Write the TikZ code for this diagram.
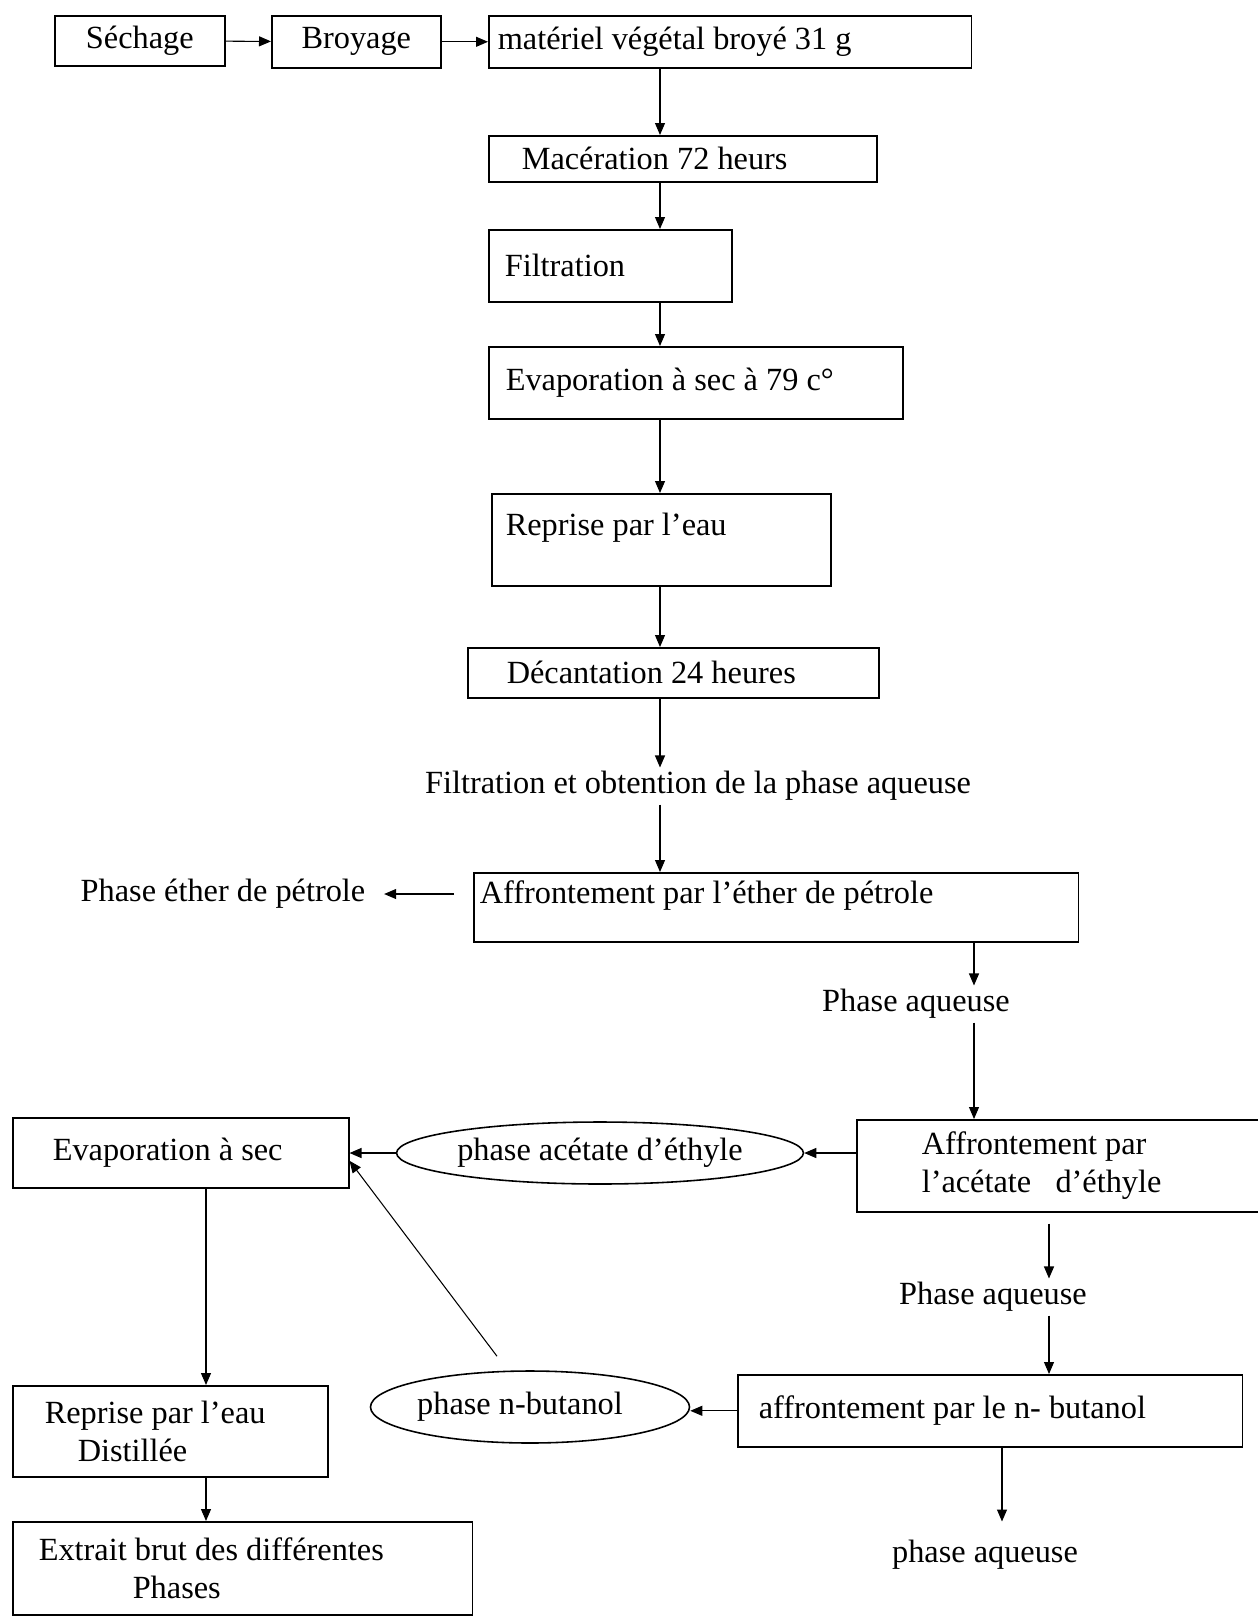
\documentclass[tikz,border=0pt]{standalone}
\usepackage{fontspec}
\setmainfont{Liberation Serif}
\usepackage{tikz}
\usetikzlibrary{positioning, arrows.meta, shapes.geometric}

\begin{document}
\begin{tikzpicture}[
    x=0.02cm, y=-0.02cm,
    font=\fontsize{18.4}{21.5}\selectfont,
    stage/.style={rectangle, draw, line width=0.9pt, anchor=north west, align=flush left, inner ysep=0pt},
    phase/.style={ellipse, draw, line width=0.9pt, inner sep=0pt},
    label/.style={inner sep=2pt},
    flow/.style={-{Triangle[length=0.24cm, width=0.2cm]}, line width=0.6pt}
]
\useasboundingbox (0,0) rectangle (1258,1617);

\node[stage, align=flush center, text width=3.08cm, inner xsep=0.16cm, minimum height=1.0cm] (sech) at (54,15) {Séchage};
\node[stage, align=flush center, text width=3.06cm, inner xsep=0.16cm, minimum height=1.04cm] (broy) at (271,15) {Broyage};
\node[stage, text width=9.30cm, inner xsep=0.18cm, minimum height=1.04cm] (mat) at (488,15) {matériel végétal broyé 31 g};
\node[stage, text width=6.44cm, inner xsep=0.66cm, minimum height=0.92cm] (mac) at (488,135) {Macération 72 heurs};
\node[stage, text width=4.22cm, inner xsep=0.32cm, minimum height=1.44cm] (fil) at (488,229) {Filtration};
\node[stage, text width=7.60cm, inner xsep=0.34cm, minimum height=1.44cm] (eva) at (488,346) {Evaporation à sec à 79 c°};
\node[stage, text width=6.22cm, inner xsep=0.28cm, minimum height=1.84cm, text depth=0.62cm] (rep) at (491,493) {Reprise par l’eau};
\node[stage, text width=6.66cm, inner xsep=0.78cm, minimum height=1.0cm] (dec) at (467,647) {Décantation 24 heures};
\node[label] (filt) at (698,786) {Filtration et obtention de la phase aqueuse};
\node[stage, text width=11.86cm, inner xsep=0.12cm, minimum height=1.38cm, text depth=0.62cm] (aff1) at (473,872) {Affrontement par l’éther de pétrole};
\node[label] (phet) at (223,894) {Phase éther de pétrole};
\node[label] (aq1) at (916,1004) {Phase aqueuse};
\node[stage, text width=6.28cm, inner xsep=1.3cm, minimum height=1.84cm] (aff2) at (856,1119) {Affrontement par\\l’acétate~~~d’éthyle};
\node[phase, minimum width=8.14cm, minimum height=1.24cm] (ell1) at (600,1153) {phase acétate d’éthyle};
\node[stage, text width=5.12cm, inner xsep=0.8cm, minimum height=1.4cm] (eva2) at (12,1117) {Evaporation à sec};
\node[label] (aq2) at (993,1297) {Phase aqueuse};
\node[stage, text width=9.26cm, inner xsep=0.42cm, minimum height=1.44cm] (but) at (737,1374) {affrontement par le n- butanol};
\node[phase, minimum width=6.36cm, minimum height=1.44cm] (ell2) at (530,1407) {phase n-butanol\hspace*{0.4cm}};
\node[stage, text width=5.02cm, inner xsep=0.64cm, minimum height=1.82cm] (rep2) at (12,1385) {Reprise par l’eau\\\hspace*{0.66cm}Distillée};
\node[stage, text width=8.16cm, inner xsep=0.52cm, minimum height=1.86cm] (ext) at (12,1521) {Extrait brut des différentes\\\hspace*{1.88cm}Phases};
\node[label] (aq3) at (985,1555) {phase aqueuse};

\coordinate (spine) at (660,0);
\coordinate (aqx) at (974,0);
\coordinate (acx) at (1049,0);
\coordinate (bux) at (1002,0);
\coordinate (evx) at (206,0);
\coordinate (rise) at ([xshift=-0.66cm, yshift=0.28cm]ell2.north);

\draw[flow] (sech) -- (broy);
\draw[flow] (broy) -- (mat);
\draw[flow] (mat.south -| spine) -- (mac.north -| spine);
\draw[flow] (mac.south -| spine) -- (fil.north -| spine);
\draw[flow] (fil.south -| spine) -- (eva.north -| spine);
\draw[flow] (eva.south -| spine) -- (rep.north -| spine);
\draw[flow] (rep.south -| spine) -- (dec.north -| spine);
\draw[flow] (dec.south -| spine) -- (filt.north -| spine);
\draw[flow] (filt.south -| spine) -- (aff1.north -| spine);
\draw[flow, shorten <=0.38cm, shorten >=0.3cm] (aff1.west |- phet) -- (phet.east);
\draw[flow] (aff1.south -| aqx) -- (aq1.north -| aqx);
\draw[flow] (aq1.south -| aqx) -- (aff2.north -| aqx);
\draw[flow] (aff2.west |- ell1) -- (ell1.east);
\draw[flow] (ell1.west) -- (eva2.east |- ell1.west);
\draw[flow, shorten <=0.22cm] (aff2.south -| acx) -- (aq2.north -| acx);
\draw[flow] (aq2.south -| acx) -- (but.north -| acx);
\draw[flow] (but.west) -- (but.west -| ell2.east);
\draw[flow] (rise) -- ([yshift=-0.16cm]eva2.east);
\draw[flow] (eva2.south -| evx) -- (rep2.north -| evx);
\draw[flow] (rep2.south -| evx) -- (ext.north -| evx);
\draw[flow, shorten >=0.3cm] (but.south -| bux) -- (aq3.north -| bux);

\end{tikzpicture}
\end{document}
